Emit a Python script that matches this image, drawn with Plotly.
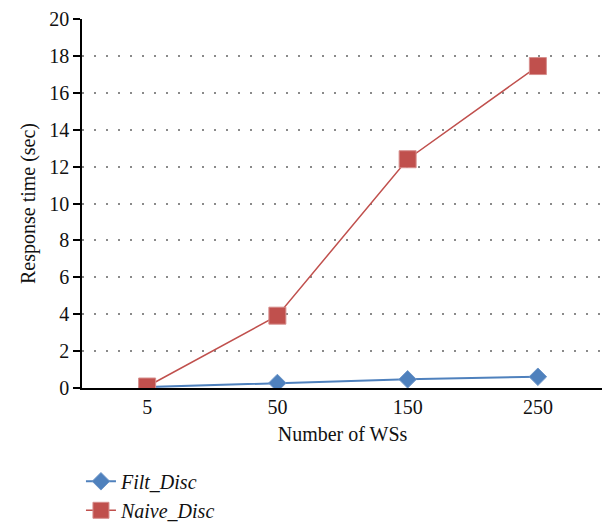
import plotly.graph_objects as go

categories = ["5", "50", "150", "250"]
filt_disc = [0.05, 0.27, 0.47, 0.61]
naive_disc = [0.08, 3.92, 12.4, 17.45]
y_ticks = [0, 2, 4, 6, 8, 10, 12, 14, 16, 18, 20]

FONT = "Liberation Serif, Times New Roman, serif"
BLUE = "#4F81BD"
RED = "#C0504D"

fig = go.Figure()
fig.add_trace(go.Scatter(
    x=categories, y=filt_disc, name="<i>Filt_Disc</i>", mode="lines+markers",
    line=dict(color=BLUE, width=2),
    marker=dict(symbol="diamond", size=13.5, color=BLUE, line=dict(color="#6F97C9", width=1)),
))
fig.add_trace(go.Scatter(
    x=categories, y=naive_disc, name="<i>Naive_Disc</i>", mode="lines+markers",
    line=dict(color=RED, width=1.5),
    marker=dict(symbol="square", size=17, color=RED, line=dict(color="#D68E8C", width=1)),
))

fig.update_layout(
    width=610, height=527,
    margin=dict(l=74, r=15, t=11, b=146.5, autoexpand=False),
    paper_bgcolor="white", plot_bgcolor="white",
    font=dict(family=FONT, size=20, color="#111111"),
    showlegend=True,
    legend=dict(
        x=-0.002, y=-0.2, xanchor="left", yanchor="top",
        font=dict(family=FONT, size=20, color="#111111"),
        bgcolor="rgba(0,0,0,0)", tracegroupgap=0, itemwidth=30,
    ),
    xaxis=dict(
        type="category", categoryorder="array", categoryarray=categories,
        range=[-0.5, 3.5], showgrid=False, zeroline=False, automargin=False,
        showline=True, linecolor="black", linewidth=1.5,
        ticks="", tickfont=dict(size=20),
        title=dict(text="Number of WSs", font=dict(size=20), standoff=10),
    ),
    yaxis=dict(
        range=[0, 20.001], tickvals=y_ticks, showgrid=True, automargin=False,
        gridcolor="#8a8a8a", griddash="2px,10px", gridwidth=1.5,
        zeroline=False, showline=True, linecolor="black", linewidth=1.5,
        ticks="outside", ticklen=7, tickcolor="black", tickwidth=1.5,
        tickfont=dict(size=20), ticklabeloverflow="allow",
        title=dict(text="Response time (sec)", font=dict(size=20), standoff=8),
    ),
)

fig.write_html("out.html")
